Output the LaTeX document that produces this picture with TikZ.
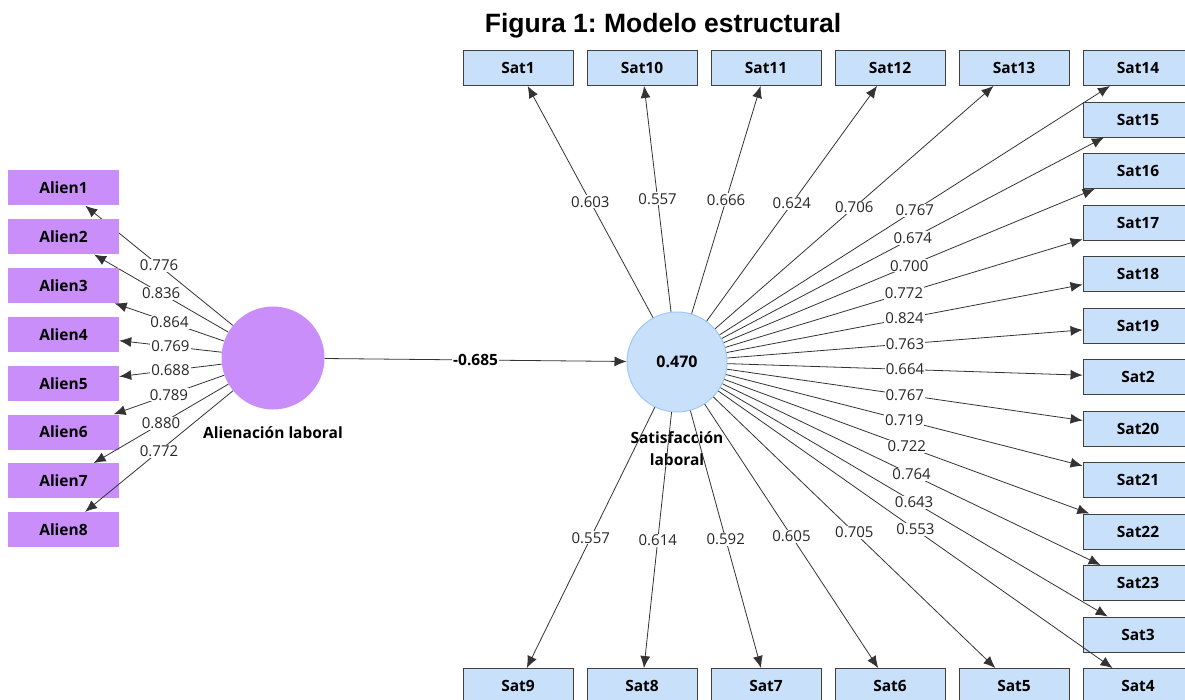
\documentclass[tikz,border=0pt]{standalone}
\usepackage{fontspec}
\setmainfont{Open Sans}
\newfontfamily\titlefont{Liberation Sans}
\usepackage{tikz}
\usetikzlibrary{arrows.meta,positioning}
\usepackage{xcolor}
\definecolor{satblue}{RGB}{200,224,250}
\definecolor{ringblue}{RGB}{160,202,245}
\definecolor{alienpurple}{RGB}{201,142,249}
\frenchspacing

\begin{document}
\begin{tikzpicture}[x=1pt,y=-1pt,%[every node/.style={font=\bfseries}]
  ind/.style={draw=black!75,fill=satblue,line width=0.9pt,minimum width=110pt,minimum height=35pt,inner sep=0pt,font=\bfseries\fontsize{15.5}{18}\selectfont},
  alienbox/.style={fill=alienpurple,minimum width=111pt,minimum height=35pt,inner sep=0pt,font=\bfseries\fontsize{15.5}{18}\selectfont},
  load/.style={draw=black!80,line width=0.8pt,-{Latex[length=12pt,width=10pt]}},
  lbl/.style={fill=white,inner sep=1pt,text=black!85,font=\fontsize{15}{17}\selectfont}]
\newcommand*{\rowstep}{124}
\newcommand*{\colstep}{51.5}
\useasboundingbox (0,0) rectangle (1185,700);

\node[font=\titlefont\bfseries\fontsize{26.5}{30}\selectfont] (title) at (663,26) {Figura 1: Modelo estructural};

% latent variables
\node[circle,fill=alienpurple,minimum size=103pt,inner sep=0pt] (alien) at (273,358) {};
\node[font=\bfseries\fontsize{15.5}{18}\selectfont] (alienname) at (273,433) {Alienación laboral};
\node[circle,fill=satblue,draw=ringblue,line width=1pt,minimum size=100pt,inner sep=0pt,font=\bfseries\fontsize{16}{19}\selectfont] (satis) at (677,362) {0.470};
\node[font=\bfseries\fontsize{15.5}{22}\selectfont,align=center] (satisname) at (677,449) {Satisfacción\\laboral};

\draw[load] (alien) -- node[lbl,text=black,font=\bfseries\fontsize{15.5}{18}\selectfont] {-0.685} (satis);

\foreach \lab [count=\i] in {0.776,0.836,0.864,0.769,0.688,0.789,0.880,0.772}
{
  \node[alienbox] (alien\i) at (63.5, 188+48.8*\i-48.8) {Alien\i};
  \draw[load] (alien) -- node[lbl] {\lab} (alien\i);
}

\foreach \n/\lab [count=\k from 0] in {1/0.603,10/0.557,11/0.666,12/0.624,13/0.706}
{
  \node[ind] (sat\n) at (518+\rowstep*\k, 68) {Sat\n};
  \draw[load] (satis) -- node[lbl] {\lab} (sat\n);
}
\foreach \n/\lab [count=\k from 0] in {14/0.767,15/0.674,16/0.700,17/0.772,18/0.824,19/0.763,2/0.664,20/0.767,21/0.719,22/0.722,23/0.764,3/0.643,4/0.553}
{
  \node[ind] (sat\n) at (1138, 68+\colstep*\k) {Sat\n};
  \draw[load] (satis) -- node[lbl] {\lab} (sat\n);
}
\foreach \n/\lab [count=\k from 0] in {9/0.557,8/0.614,7/0.592,6/0.605,5/0.705}
{
  \node[ind] (sat\n) at (518+\rowstep*\k, 686) {Sat\n};
  \draw[load] (satis) -- node[lbl] {\lab} (sat\n);
}
\end{tikzpicture}
\end{document}
